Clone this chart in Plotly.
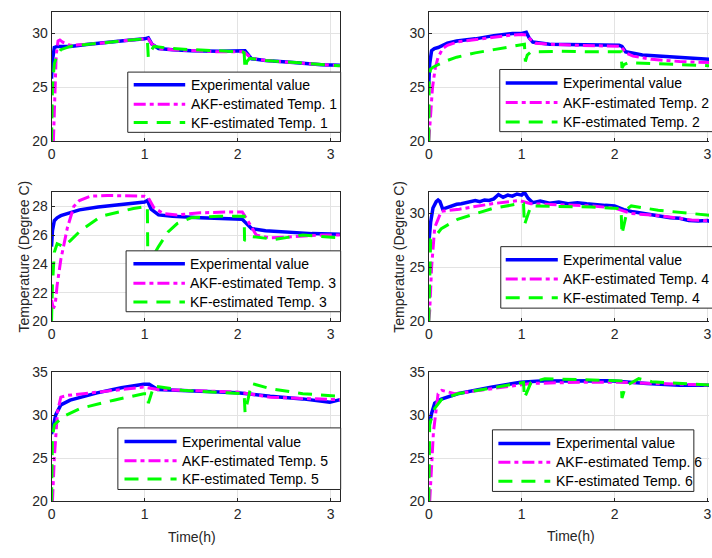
import plotly.graph_objects as go

# ---------------- data: time (h) and temperature (degree C) ----------------
# Sensor 1
t_exp1 = [0, 0.01, 0.03, 0.06, 0.1, 0.2, 0.4, 0.6, 0.8, 1.0, 1.04, 1.08, 1.15, 1.3, 1.5, 1.8, 2.05, 2.08, 2.15, 2.3, 2.6, 2.9, 3.1]
v_exp1 = [25.8, 27.5, 28.7, 28.8, 28.8, 28.8, 29.0, 29.2, 29.35, 29.5, 29.6, 29.0, 28.6, 28.5, 28.4, 28.35, 28.35, 28.4, 27.65, 27.5, 27.3, 27.1, 27.05]
t_akf1 = [0.02, 0.03, 0.05, 0.07, 0.09, 0.12, 0.2, 0.4, 0.6, 0.8, 1.0, 1.04, 1.08, 1.15, 1.3, 1.5, 1.8, 2.05, 2.08, 2.15, 2.3, 2.6, 2.9, 3.1]
v_akf1 = [20, 23, 28.0, 29.3, 29.4, 29.2, 28.9, 29.0, 29.2, 29.35, 29.5, 29.5, 29.0, 28.6, 28.5, 28.4, 28.3, 28.3, 28.2, 27.7, 27.5, 27.3, 27.1, 27.0]
t_kf1 = [0, 0.01, 0.03, 0.06, 0.1, 0.2, 0.4, 0.6, 0.8, 1.0, 1.03, 1.04, 1.07, 1.1, 1.3, 1.5, 1.8, 2.05, 2.07, 2.08, 2.1, 2.13, 2.3, 2.6, 2.9, 3.1]
v_kf1 = [20, 25, 27.2, 28.0, 28.5, 28.8, 29.0, 29.2, 29.35, 29.5, 29.4, 27.8, 28.4, 28.8, 28.6, 28.5, 28.4, 28.3, 28.2, 26.7, 27.4, 27.7, 27.5, 27.3, 27.1, 27.0]

# Sensor 2
t_exp2 = [0, 0.01, 0.03, 0.06, 0.1, 0.2, 0.3, 0.5, 0.7, 0.9, 1.0, 1.05, 1.08, 1.12, 1.3, 1.6, 1.9, 2.05, 2.08, 2.12, 2.3, 2.5, 2.8, 3.05]
v_exp2 = [25.3, 27.2, 28.4, 28.6, 28.7, 29.1, 29.3, 29.5, 29.8, 30.0, 30.0, 30.1, 29.6, 29.2, 29.0, 28.95, 28.9, 28.9, 28.8, 28.3, 28.0, 27.9, 27.7, 27.6]
t_akf2 = [0, 0.02, 0.04, 0.07, 0.1, 0.15, 0.2, 0.3, 0.5, 0.7, 0.9, 1.0, 1.05, 1.1, 1.15, 1.3, 1.6, 2.0, 2.07, 2.12, 2.2, 2.4, 2.7, 3.05]
v_akf2 = [20, 23, 25, 26.8, 27.8, 28.6, 28.9, 29.2, 29.45, 29.65, 29.85, 29.9, 29.85, 29.4, 29.1, 29.0, 28.9, 28.85, 28.8, 28.2, 27.9, 27.6, 27.4, 27.3]
t_kf2 = [0, 0.005, 0.02, 0.05, 0.1, 0.2, 0.3, 0.5, 0.7, 0.9, 1.0, 1.03, 1.04, 1.06, 1.1, 1.4, 1.8, 2.05, 2.07, 2.08, 2.1, 2.15, 2.4, 2.7, 3.05]
v_kf2 = [20, 26, 26.7, 26.9, 27.1, 27.5, 27.8, 28.2, 28.5, 28.8, 29.0, 29.0, 27.4, 28.0, 28.3, 28.35, 28.3, 28.3, 28.3, 26.8, 27.1, 27.3, 27.2, 27.1, 27.0]

# Sensor 3
t_exp3 = [0, 0.01, 0.03, 0.06, 0.1, 0.15, 0.3, 0.5, 0.7, 0.9, 1.0, 1.03, 1.07, 1.15, 1.3, 1.6, 1.9, 2.05, 2.08, 2.15, 2.3, 2.5, 2.8, 3.1]
v_exp3 = [25.2, 26.3, 27.0, 27.2, 27.35, 27.45, 27.75, 27.95, 28.1, 28.25, 28.3, 28.4, 27.8, 27.4, 27.3, 27.2, 27.1, 27.1, 26.9, 26.45, 26.3, 26.2, 26.1, 26.05]
t_akf3 = [0, 0.02, 0.04, 0.06, 0.1, 0.17, 0.24, 0.3, 0.42, 0.6, 1.0, 1.04, 1.1, 1.2, 1.35, 1.6, 1.9, 2.05, 2.1, 2.2, 2.35, 2.6, 2.9, 3.1]
v_akf3 = [21.5, 20.9, 21.2, 22.5, 24.3, 26.5, 28.0, 28.4, 28.7, 28.75, 28.7, 28.6, 27.9, 27.5, 27.4, 27.55, 27.6, 27.6, 27.1, 26.0, 25.8, 25.9, 26.0, 26.0]
t_kf3 = [0, 0.01, 0.03, 0.06, 0.13, 0.2, 0.31, 0.53, 0.88, 1.0, 1.03, 1.035, 1.08, 1.15, 1.25, 1.35, 1.5, 1.8, 2.05, 2.07, 2.075, 2.15, 2.4, 2.7, 3.1]
v_kf3 = [20, 22.5, 24.8, 25.4, 25.2, 25.6, 26.3, 27.3, 27.85, 28.0, 28.0, 24.0, 24.4, 25.2, 26.2, 26.8, 27.2, 27.3, 27.3, 27.3, 25.6, 25.9, 25.7, 26.0, 25.8]

# Sensor 4
t_exp4 = [0, 0.02, 0.045, 0.08, 0.1, 0.12, 0.15, 0.2, 0.25, 0.3, 0.35, 0.4, 0.45, 0.5, 0.55, 0.6, 0.65, 0.7, 0.75, 0.8, 0.85, 0.9, 0.95, 1.0,
          1.03, 1.07, 1.12, 1.2, 1.3, 1.4, 1.5, 1.6, 1.7, 1.8, 1.9, 2.0, 2.1, 2.2, 2.3, 2.4, 2.5, 2.6, 2.7, 2.8, 2.9, 3.0, 3.05]
v_exp4 = [27.2, 29.2, 30.5, 31.1, 31.25, 31.1, 30.4, 30.55, 30.7, 30.85, 30.9, 31.0, 31.05, 31.2, 31.1, 31.25, 31.2, 31.35, 31.75, 31.5, 31.7, 31.6, 31.8, 31.7,
          31.95, 31.4, 31.0, 31.15, 30.95, 31.05, 30.9, 31.0, 30.9, 30.8, 30.75, 30.7, 30.35, 30.15, 30.0, 29.85, 29.75, 29.6, 29.55, 29.35, 29.3, 29.35, 29.2]
t_akf4 = [0, 0.01, 0.03, 0.064, 0.135, 0.33, 0.68, 0.97, 1.1, 1.75, 2.0, 2.18, 2.47, 2.83, 3.05]
v_akf4 = [20, 21, 25, 28.7, 30.2, 30.4, 30.9, 31.2, 30.9, 30.7, 30.5, 30.0, 29.8, 29.4, 29.3]
t_kf4 = [0, 0.02, 0.064, 0.135, 0.31, 0.68, 0.97, 1.02, 1.03, 1.1, 1.75, 2.05, 2.07, 2.08, 2.14, 2.18, 2.47, 2.83, 3.05]
v_kf4 = [20, 27.6, 27.8, 28.6, 29.46, 30.45, 30.9, 30.9, 28.95, 30.7, 30.6, 30.45, 30.45, 28.06, 30.45, 30.7, 30.3, 30.0, 29.8]

# Sensor 5
t_exp5 = [0, 0.02, 0.046, 0.1, 0.2, 0.49, 0.75, 0.99, 1.05, 1.14, 1.57, 2.0, 2.35, 2.7, 2.99, 3.1]
v_exp5 = [27.8, 29.0, 30.06, 31.2, 31.76, 32.6, 33.2, 33.6, 33.6, 33.0, 32.85, 32.6, 32.2, 31.9, 31.5, 31.8]
t_akf5 = [0.01, 0.03, 0.064, 0.1, 0.17, 0.49, 0.99, 1.14, 2.0, 2.35, 2.7, 3.1]
v_akf5 = [20, 25, 30.4, 32.1, 32.3, 32.7, 33.27, 33.0, 32.7, 32.1, 32.0, 31.8]
t_kf5 = [0, 0.01, 0.03, 0.135, 0.31, 0.67, 0.99, 1.03, 1.04, 1.1, 1.4, 2.0, 2.07, 2.08, 2.15, 2.35, 2.7, 3.1]
v_kf5 = [20, 27.4, 28.9, 29.9, 30.8, 31.75, 32.5, 32.5, 31.4, 33.4, 32.9, 32.5, 32.5, 30.3, 33.7, 33.1, 32.5, 32.2]

# Sensor 6
t_exp6 = [0, 0.03, 0.064, 0.135, 0.31, 0.67, 0.99, 1.2, 1.95, 2.15, 2.35, 2.7, 3.05]
v_exp6 = [28.56, 30.2, 31.4, 31.87, 32.5, 33.27, 33.83, 33.98, 34.0, 33.9, 33.7, 33.5, 33.5]
t_akf6 = [0.01, 0.03, 0.05, 0.1, 0.14, 0.28, 0.67, 0.99, 1.1, 1.72, 2.07, 2.4, 3.05]
v_akf6 = [20, 24, 28, 32.5, 32.9, 32.5, 33.1, 33.6, 33.7, 33.85, 33.85, 33.7, 33.5]
t_kf6 = [0, 0.01, 0.064, 0.135, 0.31, 0.67, 0.99, 1.02, 1.03, 1.1, 1.25, 1.75, 2.04, 2.07, 2.08, 2.12, 2.26, 2.4, 3.05]
v_kf6 = [20, 29.0, 30.8, 31.8, 32.5, 33.2, 33.8, 33.8, 32.0, 33.8, 34.25, 34.1, 34.0, 34.0, 32.0, 33.4, 34.25, 33.9, 33.5]

y_ranges = [[20, 32], [20, 32], [20, 29], [20, 32], [20, 35], [20, 35]]
y_ticks = [[20, 25, 30], [20, 25, 30], [20, 22, 24, 26, 28], [20, 25, 30], [20, 25, 30, 35], [20, 25, 30, 35]]
x_ticks = [0, 1, 2, 3]
series_names = ["Experimental value", "AKF-estimated Temp. {}", "KF-estimated Temp. {}"]

exp_data = [(t_exp1, v_exp1), (t_exp2, v_exp2), (t_exp3, v_exp3), (t_exp4, v_exp4), (t_exp5, v_exp5), (t_exp6, v_exp6)]
akf_data = [(t_akf1, v_akf1), (t_akf2, v_akf2), (t_akf3, v_akf3), (t_akf4, v_akf4), (t_akf5, v_akf5), (t_akf6, v_akf6)]
kf_data = [(t_kf1, v_kf1), (t_kf2, v_kf2), (t_kf3, v_kf3), (t_kf4, v_kf4), (t_kf5, v_kf5), (t_kf6, v_kf6)]

# ---------------- styling ----------------
W, H = 712, 558
FONT = "Liberation Sans, Arial, Helvetica, sans-serif"
AX = "#262626"
GRID = "#e3e3e3"
BLUE, MAGENTA, GREEN = "#0000ff", "#ff00ff", "#00ff00"
DASH_AKF = "12px,4px,4px,4px"
DASH_KF = "14px,9px"

# axes boxes in pixels: (left, top, right, bottom)
boxes = [
    (48, 4, 339.3, 137.3), (429, 4, 712, 137.3),
    (48, 189.3, 339.3, 322.7), (429, 189.3, 712, 322.7),
    (48, 375, 339.3, 507.7), (429, 375, 712, 507.7),
]
PX_PER_H = 93.8

# legend geometry in pixels: box (x0, y0, x1, y1), sample x0, x1, text x, row ys
legends = [
    ((125, 66, 340, 128), 131, 183, 187, (79, 99, 118)),
    ((500.7, 63.3, 718, 127.3), 506.7, 559, 562.5, (77.3, 97.3, 117.3)),
    ((123.3, 250, 340, 312.7), 130.7, 182.7, 186, (263.3, 283.3, 302.7)),
    ((501.7, 245.7, 718, 309), 506.7, 559.3, 562.5, (259.3, 279, 298.3)),
    ((115, 432.3, 340, 495.7), 121.7, 174.3, 178, (446.3, 466, 485)),
    ((493.3, 434.3, 696.7, 497.7), 499.3, 551.7, 555, (448.3, 467.7, 487.3)),
]


def px(x):
    return x / W


def py(y):
    return 1 - y / H


fig = go.Figure()
layout = dict(
    width=W, height=H, margin=dict(l=0, r=0, t=0, b=0),
    paper_bgcolor="white", plot_bgcolor="white", showlegend=False,
    font=dict(family=FONT, size=14, color=AX),
)

for i in range(6):
    k = i + 1
    sfx = "" if k == 1 else str(k)
    left, top, right, bottom = boxes[i]
    right_col = (i % 2 == 1)
    x_max = (right - left) / PX_PER_H if right_col else 3.1
    layout["xaxis" + sfx] = dict(
        domain=[px(left), px(right)], range=[0, x_max], anchor="y" + sfx,
        tickvals=x_ticks, showgrid=True, gridcolor=GRID, gridwidth=1, zeroline=False,
        showline=True, linecolor=AX, linewidth=1, mirror=True,
        ticks="inside", ticklen=3, tickcolor=AX, tickfont=dict(size=14, color=AX, family=FONT),
        ticklabeloverflow="allow",
    )
    layout["yaxis" + sfx] = dict(
        domain=[py(bottom), py(top)], range=y_ranges[i], anchor="x" + sfx,
        tickvals=y_ticks[i], showgrid=True, gridcolor=GRID, gridwidth=1, zeroline=False,
        showline=True, linecolor=AX, linewidth=1, mirror=(not right_col),
        ticks="inside", ticklen=3, tickcolor=AX, tickfont=dict(size=14, color=AX, family=FONT),
    )
    xa, ya = "x" + sfx, "y" + sfx
    fig.add_trace(go.Scatter(x=exp_data[i][0], y=exp_data[i][1], mode="lines", xaxis=xa, yaxis=ya,
                             line=dict(color=BLUE, width=3.5), name=series_names[0]))
    fig.add_trace(go.Scatter(x=akf_data[i][0], y=akf_data[i][1], mode="lines", xaxis=xa, yaxis=ya,
                             line=dict(color=MAGENTA, width=3, dash=DASH_AKF), name=series_names[1].format(k)))
    fig.add_trace(go.Scatter(x=kf_data[i][0], y=kf_data[i][1], mode="lines", xaxis=xa, yaxis=ya,
                             line=dict(color=GREEN, width=3, dash=DASH_KF), name=series_names[2].format(k)))

fig.update_layout(**layout)

# legends drawn as boxed keys inside each axes
shapes, annotations = [], []
for i, (box, sx0, sx1, tx, rows) in enumerate(legends):
    k = i + 1
    x0, y0, x1, y1 = box
    shapes.append(dict(type="rect", xref="paper", yref="paper", x0=px(x0), x1=px(x1), y0=py(y1), y1=py(y0),
                       line=dict(color=AX, width=1), fillcolor="white", layer="above"))
    styles = [(BLUE, 3.5, "solid"), (MAGENTA, 3, DASH_AKF), (GREEN, 3, DASH_KF)]
    for j, (col, w, d) in enumerate(styles):
        shapes.append(dict(type="line", xref="paper", yref="paper", x0=px(sx0), x1=px(sx1),
                           y0=py(rows[j]), y1=py(rows[j]), line=dict(color=col, width=w, dash=d), layer="above"))
        annotations.append(dict(xref="paper", yref="paper", x=px(tx), y=py(rows[j]), xanchor="left", yanchor="middle",
                                text=series_names[j].format(k), showarrow=False,
                                font=dict(family=FONT, size=14, color="#000000")))

# axis titles
annotations.append(dict(xref="paper", yref="paper", x=px(20), y=py(256), text="Temperature (Degree C)", textangle=-90,
                        showarrow=False, xanchor="center", yanchor="middle", font=dict(family=FONT, size=14, color=AX)))
annotations.append(dict(xref="paper", yref="paper", x=px(399), y=py(256), text="Temperature (Degree C)", textangle=-90,
                        showarrow=False, xanchor="center", yanchor="middle", font=dict(family=FONT, size=14, color=AX)))
annotations.append(dict(xref="paper", yref="paper", x=px(190), y=py(545), text="Time(h)",
                        showarrow=False, xanchor="center", yanchor="middle", font=dict(family=FONT, size=14, color=AX)))
annotations.append(dict(xref="paper", yref="paper", x=px(573), y=py(544), text="Time(h)",
                        showarrow=False, xanchor="center", yanchor="middle", font=dict(family=FONT, size=14, color=AX)))

fig.update_layout(shapes=shapes, annotations=annotations)
fig.write_html("out.html")
